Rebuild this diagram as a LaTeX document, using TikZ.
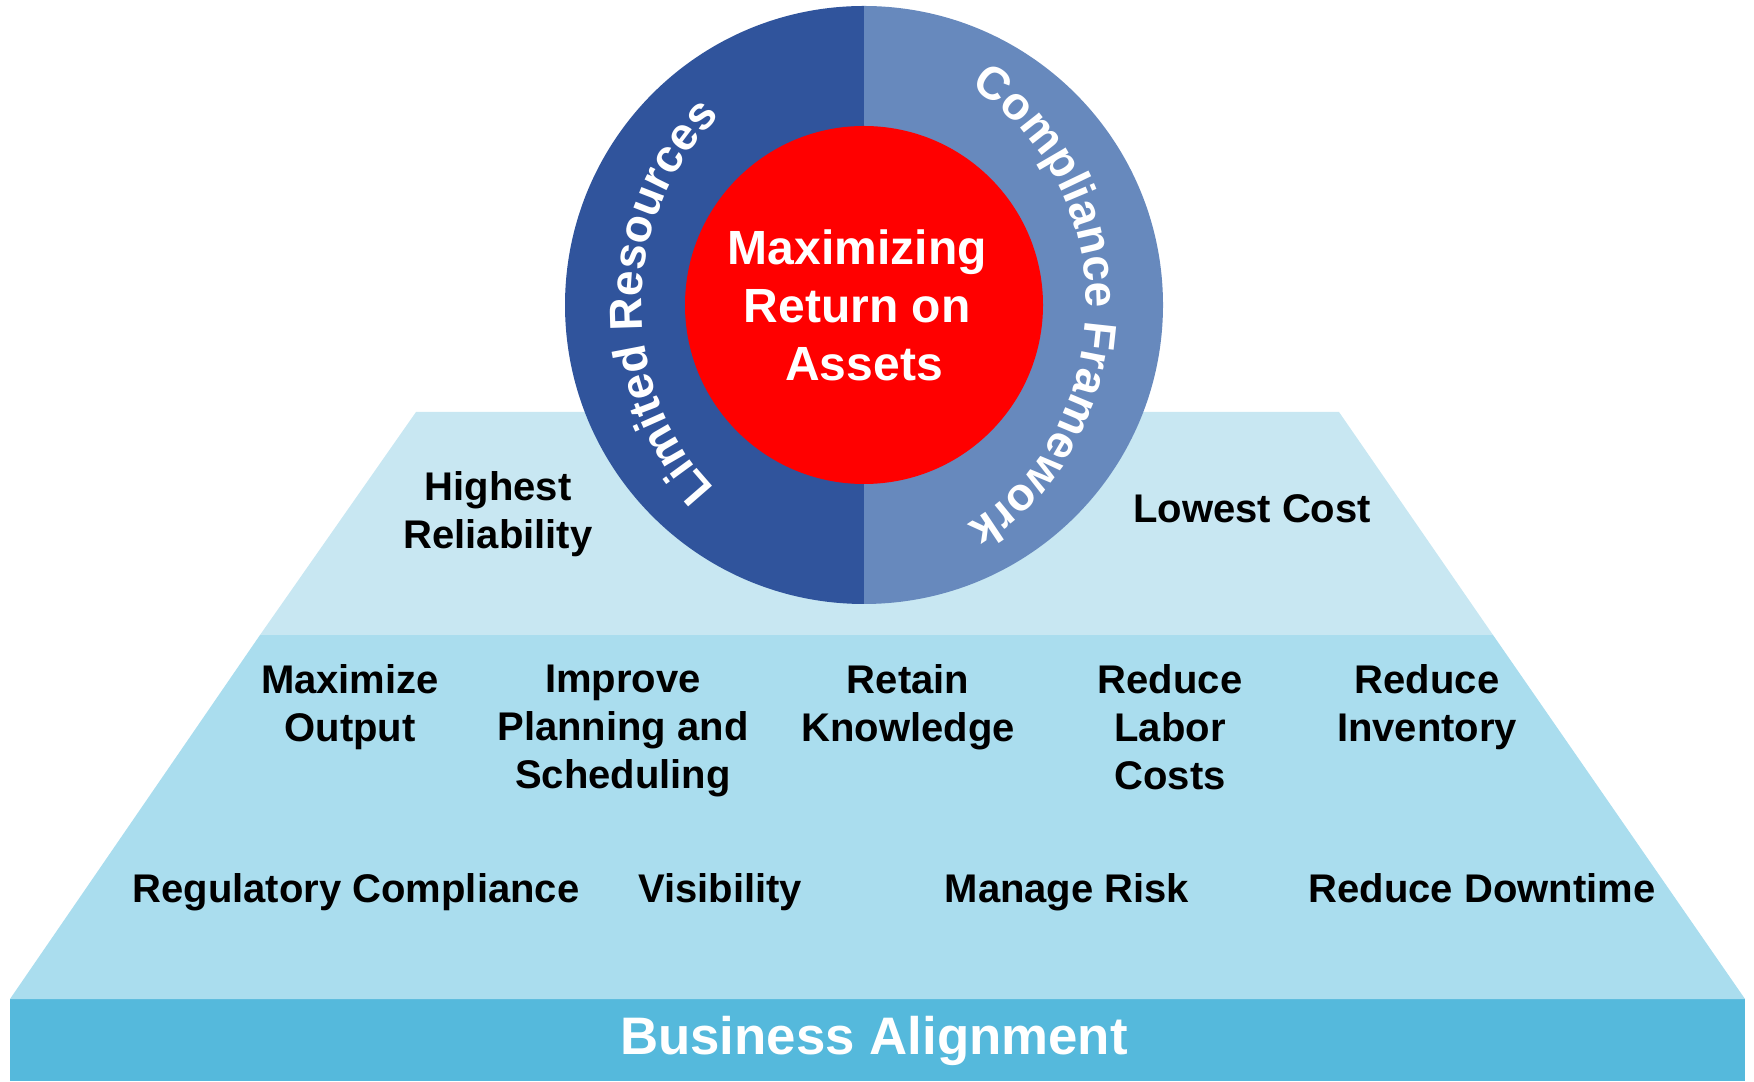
\documentclass[tikz,border=0pt]{standalone}
\usepackage{fontspec}
\setmainfont{Liberation Sans}
\usetikzlibrary{decorations.text}
\definecolor{ringdark}{RGB}{48,84,156}
\definecolor{ringlight}{RGB}{103,137,189}
\definecolor{core}{RGB}{255,0,0}
\definecolor{tiertop}{RGB}{200,231,242}
\definecolor{tiermid}{RGB}{170,221,238}
\definecolor{tierbase}{RGB}{85,185,220}
\tikzset{
  goal/.style={font=\bfseries\fontsize{20}{24}\selectfont, align=center, inner sep=0pt},
  ringlabel/.style={decorate, decoration={text along path, text align=center,
    text color=white, text={|\bfseries\fontsize{23}{27}\selectfont|#1}}}
}
\begin{document}
\begin{tikzpicture}[x=0.5pt, y=0.5pt]
      \useasboundingbox (0,0) rectangle (1754,1081);
      % pyramid tiers
      \fill[tierbase] (10,0) rectangle (1745,82);
      \fill[tiermid] (10,82) -- (1745,82) -- (1493,446) -- (260,446) -- cycle;
      \fill[tiertop] (260,446) -- (1493,446) -- (1339,669) -- (416,669) -- cycle;
      % ring
      \coordinate (hub) at (864,776);
      \fill[ringdark] (hub) ++(90:299) arc[start angle=90, end angle=270, radius=299] -- cycle;
      \fill[ringlight] (hub) ++(-90:299) arc[start angle=-90, end angle=90, radius=299] -- cycle;
      \path[ringlabel={Limited Resources}] (hub) ++(264:222 and 248)
        arc[start angle=264, end angle=94, x radius=222, y radius=248];
      \path[ringlabel={Compliance Framework}] (hub) ++(84:222 and 248)
        arc[start angle=84, end angle=-85, x radius=222, y radius=248];
      \node (core) [circle, fill=core, minimum size=179pt, inner sep=0pt, text=white, align=center,
        font=\bfseries\fontsize{24}{29}\selectfont] at (hub) {Maximizing\kern.28em\\Return on\kern.28em\\Assets};
      % top tier
      \node (reliab) [goal] at (498,567) {Highest\\Reliability};
      \node (cost) [goal, anchor=base] at (1252,558) {Lowest Cost};
      % middle tier
      \node (output) [goal] at (350,374) {Maximize\\Output};
      \node (plan) [goal] at (623,350) {Improve\\Planning and\\Scheduling};
      \node (know) [goal] at (908,374) {Retain\\Knowledge};
      \node (labor) [goal] at (1170,354) {Reduce\\Labor\\Costs};
      \node (stock) [goal] at (1427,374) {Reduce\\Inventory};
      \node (regul) [goal, anchor=base] at (356,178) {Regulatory Compliance};
      \node (visib) [goal, anchor=base] at (720,178) {Visibility};
      \node (risk) [goal, anchor=base] at (1067,178) {Manage Risk};
      \node (downtime) [goal, anchor=base] at (1482,178) {Reduce Downtime};
      % base
      \node (align) [anchor=base, inner sep=0pt, text=white, font=\bfseries\fontsize{26.4}{32}\selectfont]
        at (874,27) {Business Alignment};
\end{tikzpicture}
\end{document}
